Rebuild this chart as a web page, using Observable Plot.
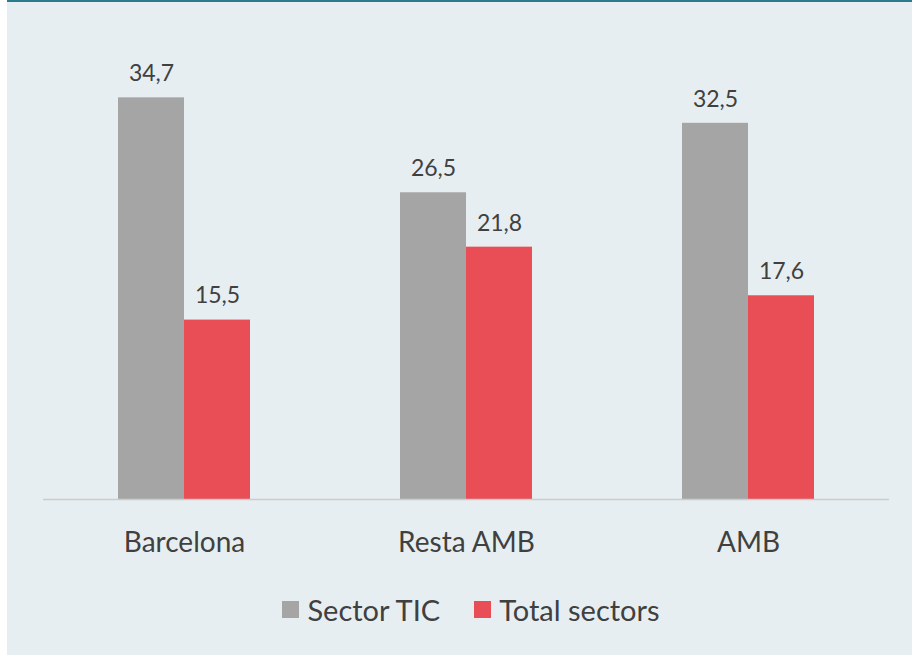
<!DOCTYPE html>
<html>
<head>
<meta charset="utf-8">
<script src="https://cdn.jsdelivr.net/npm/d3@7"></script>
<script src="https://cdn.jsdelivr.net/npm/@observablehq/plot@0.6"></script>
<style>
  html, body { margin: 0; padding: 0; background: #ffffff; }
  #wrap { position: relative; width: 912px; height: 655px; overflow: hidden; }
  #bg { position: absolute; left: 7px; top: 0; width: 905px; height: 655px; background: #E7EEF1; border-top: 2px solid #2C7A8D; box-sizing: border-box; }
  #chart { position: absolute; left: 0; top: 0; }
  #legend { position: absolute; left: 15px; top: 592px; width: 912px; display: flex; justify-content: center; align-items: center; font-family: Lato, sans-serif; font-size: 29px; color: #404040; }
  .item { display: flex; align-items: center; margin: 0 17px; }
  .sw { width: 17px; height: 17px; margin-right: 8px; }
</style>
</head>
<body>
<div id="wrap">
  <div id="bg"></div>
  <div id="chart"></div>
  <div id="legend"></div>
</div>
<script>
const regions = ["Barcelona", "Resta AMB", "AMB"];
const series = ["Sector TIC", "Total sectors"];
const sectorTIC = [34.7, 26.5, 32.5];
const totalSectors = [15.5, 21.8, 17.6];
const colors = ["#A5A5A5", "#E94D55"];

const data = [];
regions.forEach((r, i) => {
  data.push({region: r, series: series[0], value: sectorTIC[i]});
  data.push({region: r, series: series[1], value: totalSectors[i]});
});
const fmt = v => v.toFixed(1).replace(".", ",");

const chart = Plot.plot({
  width: 912,
  height: 580,
  marginTop: 36,
  marginBottom: 81,
  marginLeft: 42,
  marginRight: 22,
  style: {background: "transparent", fontFamily: "Lato, sans-serif", color: "#404040"},
  fx: {domain: regions, padding: 0, label: null},
  x: {domain: series, paddingInner: 0, paddingOuter: 1.11, axis: null},
  y: {domain: [0, 40], axis: null},
  color: {domain: series, range: colors},
  marks: [
    Plot.barY(data, {fx: "region", x: "series", y: "value", fill: "series"}),
    Plot.ruleY([0], {stroke: "#C9CDCE", strokeWidth: 1.5}),
    Plot.text(data, {fx: "region", x: "series", y: "value", text: d => fmt(d.value), dy: -24, fontSize: 23, fill: "#404040"}),
    Plot.axisFx({anchor: "bottom", tickSize: 0, tickPadding: 33, fontSize: 28, fill: "#404040", label: null})
  ]
});
document.getElementById("chart").appendChild(chart);

const legend = document.getElementById("legend");
series.forEach((s, i) => {
  const it = document.createElement("div");
  it.className = "item";
  const sw = document.createElement("div");
  sw.className = "sw";
  sw.style.background = colors[i];
  const t = document.createElement("span");
  t.textContent = s;
  it.appendChild(sw); it.appendChild(t);
  legend.appendChild(it);
});
</script>
</body>
</html>
